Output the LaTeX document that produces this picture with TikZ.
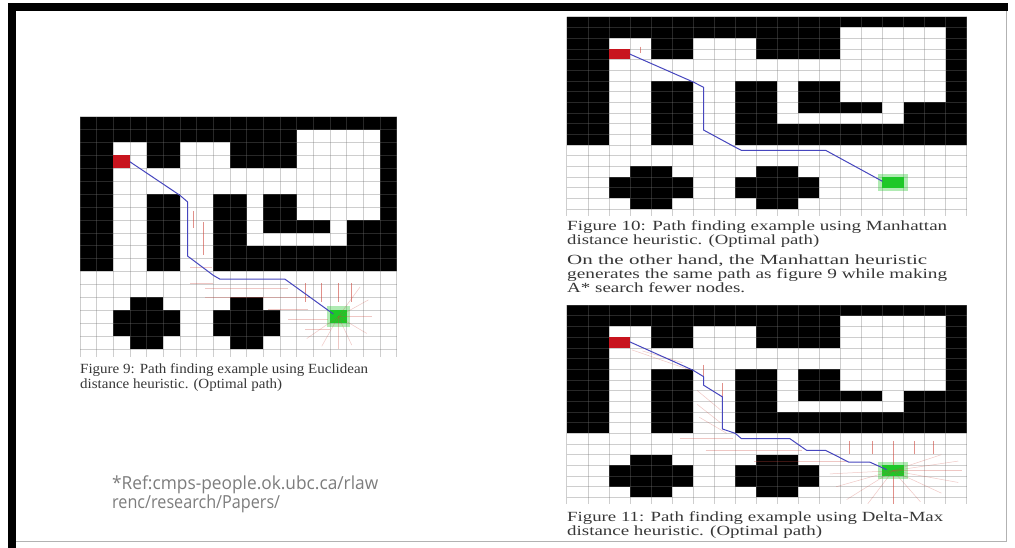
\documentclass[tikz,border=0pt]{standalone}
\usepackage{fontspec}
\usepackage{graphicx}
\newfontfamily\capfont{Liberation Serif}
\newfontfamily\reffont{Open Sans}
\definecolor{pathblue}{RGB}{70,70,190}
\definecolor{startred}{RGB}{200,20,30}
\definecolor{goalgreen}{RGB}{30,200,40}
\definecolor{explred}{RGB}{205,70,60}
\definecolor{captxt}{RGB}{55,55,55}
\definecolor{reftxt}{RGB}{125,125,125}
\tikzset{
  gridln/.style={draw=black!55, line width=0.5pt, opacity=0.35},
  pathln/.style={draw=pathblue, line width=1pt, line join=round},
  redl/.style={draw=explred, line width=0.5pt, opacity=0.6},
  pinkl/.style={draw=explred, line width=0.5pt, opacity=0.3},
  captext/.style={anchor=base west, inner sep=0pt, text=captxt, font=\capfont\fontsize{14}{14}\selectfont},
  reftext/.style={anchor=base west, inner sep=0pt, text=reftxt, font=\reffont\fontsize{18}{18}\selectfont},
}
\newcommand{\drawmaze}{%
  \fill[black] (0,0) rectangle (19,12);
  \fill[white] (13,1) rectangle (18,8);
  \fill[white] (2,2) rectangle (4,12);
  \fill[white] (6,2) rectangle (9,4);
  \fill[white] (2,4) rectangle (18,6);
  \fill[white] (6,6) rectangle (8,12);
  \fill[white] (10,6) rectangle (11,10);
  \fill[white] (10,9) rectangle (16,10);
  \fill[white] (15,8) rectangle (16,9);
  \fill[black] (3,14) rectangle (5,18);
  \fill[black] (2,15) rectangle (6,17);
  \fill[black] (9,14) rectangle (11,18);
  \fill[black] (8,15) rectangle (12,17);
  \foreach \i in {0,...,19} {\draw[gridln] (\i,0) -- (\i,18.6);}
  \foreach \j in {0,...,18} {\draw[gridln] (0,\j) -- (19,\j);}
  \fill[startred] (2,3) rectangle (3,4);
  \fill[goalgreen, opacity=0.35] (14.8,14.7) rectangle (16.2,16.3);
  \fill[goalgreen] (15,15) rectangle (16,16);
}
\begin{document}
\begin{tikzpicture}[x=1pt,y=-1pt]
\useasboundingbox (0,0) rectangle (1015,548);
\fill[white] (0,0) rectangle (1015,548);
% slide frame
\fill[black] (8,3) rectangle (1008,11);
\fill[black] (8,3) rectangle (16,548);
\draw[black!30, line width=1pt] (1006,11) -- (1006,541) -- (16,541);

% ---------- left panel (Figure 9) ----------
\begin{scope}[xshift=80pt, yshift=-116.7pt, x=16.67pt, y=-12.9pt]
  \drawmaze
  \draw[redl] (6.8,7.3) -- (6.8,8.6);
  \draw[redl] (7.4,8.2) -- (7.4,10.7);
  \draw[pinkl] (6.6,11.7) -- (7.9,11.7);
  \draw[pinkl] (6.6,12.9) -- (8,12.9);
  \draw[pinkl] (7.5,13.3) -- (12.5,13.3);
  \draw[pinkl] (7.5,14) -- (13.8,14);
  \draw[pinkl] (11.3,14.9) -- (13.7,14.9);
  \draw[pinkl] (12.5,15.7) -- (14.9,15.7);
  \draw[pinkl] (13.5,16.5) -- (15,16.5);
  \foreach \x in {13.5,14.5,15.5,16.3} {\draw[redl] (\x,12.9) -- (\x,14.4);}
  \foreach \a/\b in {16.8/13.2, 17.3/14.2, 17.5/15.5, 17.2/16.8, 16.3/17.7, 15.5/18, 14.5/17.8, 13.6/17.2} {\draw[pinkl] (15.5,15.5) -- (\a,\b);}
  \draw[pathln] (3,3.5) -- (6,6.1) -- (6.45,6.6) -- (6.45,10.8) -- (8,12.3) -- (8.4,12.6) -- (12.3,12.6) -- (15.2,15.3);
\end{scope}
\node[captext] (cap9a) at (80,373) {\resizebox{288pt}{\height}{Figure 9: Path finding example using Euclidean}};
\node[captext] (cap9b) at (80,388) {\resizebox{202pt}{\height}{distance heuristic. (Optimal path)}};

% ---------- right top panel (Figure 10) ----------
\begin{scope}[xshift=566.7pt, yshift=-16.7pt, x=21.05pt, y=-10.69pt]
  \drawmaze
  \draw[redl] (3.5,2.8) -- (3.5,3.4);
  \draw[pathln] (3,3.5) -- (6,6.1) -- (6.5,6.6) -- (6.5,10.6) -- (8,12.2) -- (8.3,12.5) -- (12.3,12.5) -- (15,15.4);
\end{scope}
\node[captext] (cap10a) at (567,231) {\resizebox{380pt}{\height}{Figure 10: Path finding example using Manhattan}};
\node[captext] (cap10b) at (567,245) {\resizebox{252pt}{\height}{distance heuristic. (Optimal path)}};
\node[captext] (body1) at (567,265) {\resizebox{360pt}{\height}{On the other hand, the Manhattan heuristic}};
\node[captext] (body2) at (567,279) {\resizebox{380pt}{\height}{generates the same path as figure 9 while making}};
\node[captext] (body3) at (567,292) {\resizebox{178pt}{\height}{A* search fewer nodes.}};

% ---------- right bottom panel (Figure 11) ----------
\begin{scope}[xshift=566.7pt, yshift=-305pt, x=21.05pt, y=-10.69pt]
  \drawmaze
  \draw[pinkl] (3.1,4.2) -- (5.9,6.1);
  \draw[pinkl] (3.6,4.3) -- (5.5,5.4);
  \draw[redl] (6.5,5.6) -- (6.5,7.0);
  \draw[redl] (7.4,7.3) -- (7.4,8.6);
  \draw[pinkl] (6.2,8) -- (7.3,9.8);
  \draw[pinkl] (6.2,9.3) -- (7.3,11);
  \draw[pinkl] (6.3,10.5) -- (7.6,12);
  \draw[pinkl] (5.4,12.5) -- (7.9,12.5);
  \draw[pinkl] (6.6,13.6) -- (11.2,13.6);
  \draw[pinkl] (8.9,14.6) -- (13.3,14.6);
  \foreach \x in {13.4,14.5,16.5,17.4} {\draw[redl] (\x,12.7) -- (\x,13.9);}
  \draw[redl] (15.5,12.7) -- (15.5,15);
  \draw[redl] (15.5,16) -- (15.5,18.6);
  \foreach \a/\b in {12.5/15.8, 12.8/17, 13.3/18.2, 14.3/18.6, 16.8/18.4, 17.8/17.6, 18.6/16.6, 18.8/15.5, 18.6/14.6, 17.8/14} {\draw[pinkl] (15.5,15.5) -- (\a,\b);}
  \draw[pathln] (3,3.45) -- (6,6.1) -- (6.5,6.7) -- (6.5,7.5) -- (7.4,8.6) -- (7.4,11.6) -- (8,12) -- (8.3,12.5) -- (10.6,12.5) -- (11.4,13.6) -- (12.3,13.6) -- (13.4,14.7) -- (14.4,14.7) -- (15.2,15.4);
\end{scope}
\node[captext] (cap11a) at (567,521) {\resizebox{376pt}{\height}{Figure 11: Path finding example using Delta-Max}};
\node[captext] (cap11b) at (567,535) {\resizebox{255pt}{\height}{distance heuristic. (Optimal path)}};

% ---------- reference ----------
\node[reftext] (ref1) at (112,489) {\resizebox{266pt}{\height}{*Ref:cmps-people.ok.ubc.ca/rlaw}};
\node[reftext] (ref2) at (112,508) {\resizebox{168pt}{\height}{renc/research/Papers/}};
\end{tikzpicture}
\end{document}
